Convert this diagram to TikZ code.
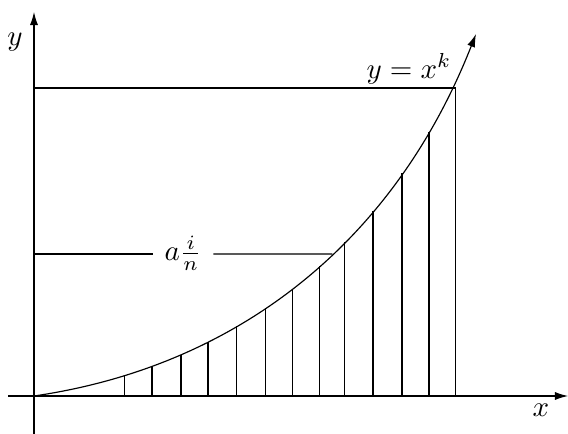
\documentclass[tikz,border=0pt]{standalone}
\usetikzlibrary{arrows.meta,intersections}
\begin{document}
\begin{tikzpicture}[x=0.345pt,y=-0.345pt,
  tip/.style={-{Latex[length=4.5pt,width=2.8pt]}},
  axis/.style={line width=0.4pt,tip},
  guide/.style={line width=0.4pt},
  ord/.style={line width=0.4pt},
  ordthick/.style={line width=0.6pt}]
\useasboundingbox (0,0) rectangle (568,434);
% axes
\coordinate (xl) at (8,396);
\coordinate (xr) at (568,396);
\coordinate (yb) at (34,434);
\coordinate (yt) at (34,12);
\draw[axis] (xl) -- (xr);
\draw[axis] (yb) -- (yt);
\node (xlab) at (541,410) {$x$};
\node (ylab) at (15,42) {$y$};
% curve
\coordinate (c0) at (34,396);
\coordinate (p1) at (240,366);
\coordinate (p2) at (395,240);
\coordinate (cend) at (476,34);
\path[name path=curve] (c0) .. controls (p1) and (p2) .. (cend);
\draw[line width=0.4pt,tip] (c0) .. controls (p1) and (p2) .. (cend);
\node (curvelab) at (409,69) {$y=x^k$};
% ordinates
\foreach \xx in {124.7,152,181,208,236.7,265.7,292.3,319.3}{
  \path[name path=vl] (\xx,400) -- (\xx,0);
  \draw[ord, name intersections={of=curve and vl, by=top}] (top) -- (top |- xl);
}
\foreach \xx in {344.5,372.7,402,428.7}{
  \path[name path=vl] (\xx,400) -- (\xx,0);
  \draw[ordthick, name intersections={of=curve and vl, by=top}] (top) -- (top |- xl);
}
% top guide
\coordinate (corner) at (455.7,88);
\coordinate (ytop) at (34,88);
\draw[guide] (ytop) -- (corner) -- (corner |- xl);
% a i/n guide
\node[inner xsep=4pt, anchor=base] (alab) at (183,260.7) {$a\frac{i}{n}$};
\coordinate (ymid) at (34,254);
\path[name path=midline] (ymid) -- (500,254);
\draw[guide] (ymid) -- (ymid -| alab.west);
\draw[guide, name intersections={of=curve and midline, by=cmid}] (ymid -| alab.east) -- (cmid);
\end{tikzpicture}
\end{document}
